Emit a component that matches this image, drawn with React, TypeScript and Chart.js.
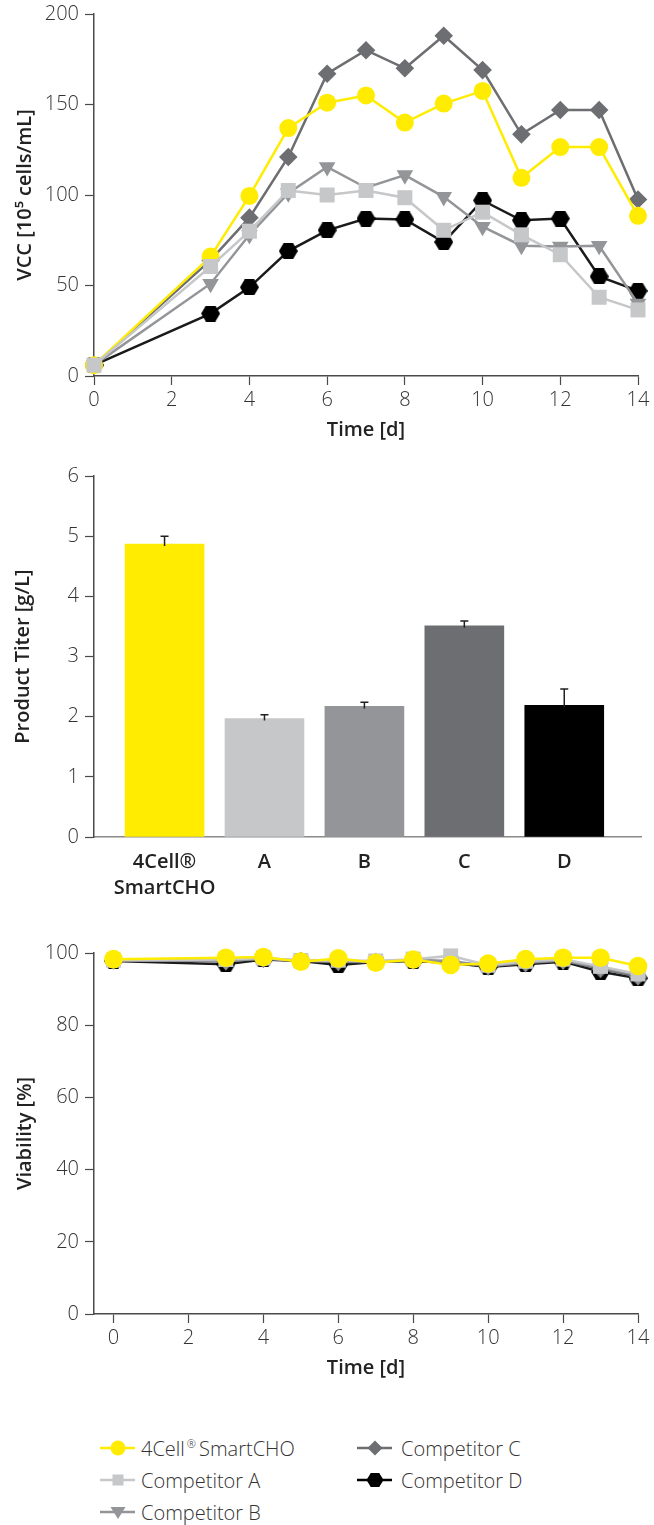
import React, { useEffect, useRef } from 'react';
import { Chart, registerables } from 'chart.js';
Chart.register(...registerables);

// ---------- DATA ----------
const days = [0, 3, 4, 5, 6, 7, 8, 9, 10, 11, 12, 13, 14];
const dayTicks = [0, 2, 4, 6, 8, 10, 12, 14];

const vccSmartCHO = [6, 66, 99.5, 137, 151, 155, 140, 150.5, 157.5, 109.5, 126.5, 126.5, 88.5];
const vccCompA = [6, 60.5, 80, 102.5, 100, 102.5, 98.5, 80.5, 90.5, 78, 67, 43.5, 36.5];
const vccCompB = [6, 51, 78, 101, 115.5, 104, 111, 99, 82.5, 72, 71.5, 72, 40];
const vccCompC = [6, 64, 87.5, 121, 167, 180, 170, 188, 169, 133.5, 147, 147, 97.5];
const vccCompD = [6, 34.5, 49, 69, 80.5, 87, 86.5, 74, 97, 86, 87, 55, 47];
const vccTicks = [0, 50, 100, 150, 200];

const titerLabels = [['4Cell®', 'SmartCHO'], 'A', 'B', 'C', 'D'];
const titerMeans = [4.87, 1.97, 2.17, 3.51, 2.19];
const titerErrors = [0.13, 0.06, 0.07, 0.08, 0.27];
const titerTicks = [0, 1, 2, 3, 4, 5, 6];

const viaSmartCHO = [98.3, 98.7, 98.9, 97.6, 98.5, 97.3, 98.2, 96.7, 97.1, 98.3, 98.7, 98.7, 96.4];
const viaCompA = [98.0, 98.2, 98.6, 97.9, 98.0, 97.8, 98.3, 99.2, 96.6, 97.7, 98.3, 96.3, 94.2];
const viaCompB = [98.0, 97.8, 98.5, 97.9, 97.7, 97.6, 98.1, 97.8, 96.4, 97.4, 98.0, 96.0, 93.8];
const viaCompC = [98.0, 97.7, 98.4, 97.8, 97.5, 97.5, 98.0, 97.6, 96.3, 97.2, 97.9, 95.6, 93.5];
const viaCompD = [97.8, 96.9, 98.2, 97.8, 96.7, 97.5, 97.8, 97.3, 96.1, 96.9, 97.6, 94.8, 93.0];
const viaTicks = [0, 20, 40, 60, 80, 100];

// ---------- STYLE ----------
const YELLOW = '#FFEC00';
const GREY_A = '#C6C7C9';
const GREY_B = '#939598';
const GREY_C = '#6D6E71';
const BLACK_D = '#000000';
const AXIS = '#4a4a4a';
const TEXT = '#333333';
const FONT = "'Open Sans', sans-serif";

Chart.defaults.font.family = FONT;
Chart.defaults.color = TEXT;

function makeHexagon(color: string, w: number, h: number) {
  const c = document.createElement('canvas');
  c.width = w;
  c.height = h;
  const ctx = c.getContext('2d')!;
  ctx.fillStyle = color;
  ctx.beginPath();
  const q = w / 4;
  ctx.moveTo(0, h / 2);
  ctx.lineTo(q, 0);
  ctx.lineTo(w - q, 0);
  ctx.lineTo(w, h / 2);
  ctx.lineTo(w - q, h);
  ctx.lineTo(q, h);
  ctx.closePath();
  ctx.fill();
  return c;
}

function lineDs(label: string, xs: number[], ys: number[], color: string, style: any, radius: number, order: number, rotation = 0, lineColor?: string) {
  return {
    label,
    data: xs.map((x, i) => ({ x, y: ys[i] })),
    borderColor: lineColor || color,
    backgroundColor: color,
    pointBackgroundColor: color,
    pointBorderColor: color,
    pointBorderWidth: 0,
    pointStyle: style,
    pointRadius: radius,
    pointRotation: rotation,
    borderWidth: 2.5,
    tension: 0,
    order,
    clip: false as any,
  };
}

const tickFont = { size: 20, weight: '300' as any, family: FONT };
const titleFont = { size: 20, weight: '600' as any, family: FONT };

function yAxis(ticksArr: number[], title: string, width: number, titlePad: number) {
  return {
    type: 'linear',
    position: 'left',
    min: ticksArr[0],
    max: ticksArr[ticksArr.length - 1],
    afterBuildTicks: (s: any) => { s.ticks = ticksArr.map((v) => ({ value: v })); },
    afterFit: (s: any) => {
      s.width = width;
      s.paddingTop = 0; s.paddingBottom = 0; s.paddingLeft = 0; s.paddingRight = 0;
    },
    ticks: { font: tickFont, color: TEXT, padding: 6 },
    grid: { display: true, drawOnChartArea: false, drawTicks: true, tickLength: 9, tickColor: AXIS, tickWidth: 1.2 },
    border: { display: true, color: AXIS, width: 1.5 },
    title: { display: true, text: title, font: titleFont, color: '#222', padding: { top: titlePad, bottom: 0 } },
  };
}

function xDayAxis(min: number, height: number, titlePadBottom: number) {
  return {
    type: 'linear',
    position: 'bottom',
    min,
    max: 14,
    afterBuildTicks: (s: any) => { s.ticks = dayTicks.map((v) => ({ value: v })); },
    afterFit: (s: any) => {
      s.height = height;
      s.paddingTop = 0; s.paddingBottom = 0; s.paddingLeft = 0; s.paddingRight = 0;
    },
    ticks: { font: tickFont, color: TEXT, padding: 3, maxRotation: 0 },
    grid: { display: true, drawOnChartArea: false, drawTicks: true, tickLength: 9, tickColor: AXIS, tickWidth: 1.2 },
    border: { display: true, color: AXIS, width: 1.5 },
    title: { display: true, text: 'Time [d]', font: titleFont, color: '#222', padding: { top: 0, bottom: titlePadBottom } },
  };
}

const errorBarPlugin = {
  id: 'errorBars',
  afterDatasetsDraw(chart: any) {
    const meta = chart.getDatasetMeta(0);
    const ys = chart.scales.y;
    const ctx = chart.ctx;
    ctx.save();
    ctx.strokeStyle = '#231F20';
    ctx.lineWidth = 1.5;
    meta.data.forEach((el: any, i: number) => {
      const top = ys.getPixelForValue(titerMeans[i] + titerErrors[i]);
      const base = ys.getPixelForValue(titerMeans[i]) + 2;
      ctx.beginPath();
      ctx.moveTo(el.x, base);
      ctx.lineTo(el.x, top);
      ctx.moveTo(el.x - 4, top);
      ctx.lineTo(el.x + 4, top);
      ctx.stroke();
    });
    ctx.restore();
  },
};

function ChartCanvas({ width, height, top, build }: { width: number; height: number; top: number; build: () => any }) {
  const ref = useRef<HTMLCanvasElement>(null);
  useEffect(() => {
    const chart = new Chart(ref.current!, build());
    return () => chart.destroy();
  }, []);
  return (
    <canvas
      ref={ref}
      width={width}
      height={height}
      style={{ position: 'absolute', left: 0, top, width, height }}
    />
  );
}

function vccConfig() {
  const hex = makeHexagon(BLACK_D, 19, 16);
  return {
    type: 'line',
    data: {
      datasets: [
        lineDs('Competitor D', days, vccCompD, BLACK_D, hex, 9, 5, 0, '#1a1a1a'),
        lineDs('Competitor B', days, vccCompB, GREY_B, 'triangle', 9.6, 4, 180),
        lineDs('Competitor C', days, vccCompC, GREY_C, 'rectRot', 9.3, 3),
        lineDs('4Cell® SmartCHO', days, vccSmartCHO, YELLOW, 'circle', 9, 2),
        lineDs('Competitor A', days, vccCompA, GREY_A, 'rect', 10.6, 1),
      ],
    },
    options: {
      responsive: false,
      animation: false,
      layout: { padding: { left: 0, right: 16, top: 14, bottom: 0 } },
      plugins: { legend: { display: false }, tooltip: { enabled: false } },
      scales: {
        x: xDayAxis(0, 74, 8),
        y: yAxis(vccTicks, 'VCC [10⁵ cells/mL]', 94, 13),
      },
    },
  };
}

function titerConfig() {
  return {
    type: 'bar',
    data: {
      datasets: [
        {
          label: 'Product Titer',
          data: titerMeans.map((v, i) => ({ x: i, y: v })),
          backgroundColor: [YELLOW, GREY_A, GREY_B, GREY_C, BLACK_D],
          borderWidth: 0,
          barThickness: 79,
        },
      ],
    },
    options: {
      responsive: false,
      animation: false,
      layout: { padding: { left: 0, right: 13, top: 26, bottom: 0 } },
      plugins: { legend: { display: false }, tooltip: { enabled: false } },
      scales: {
        x: {
          type: 'linear',
          position: 'bottom',
          offset: false,
          min: -0.706,
          max: 4.768,
          afterBuildTicks: (s: any) => { s.ticks = titerLabels.map((_, i) => ({ value: i })); },
          afterFit: (s: any) => {
            s.height = 73;
            s.paddingTop = 0; s.paddingBottom = 0; s.paddingLeft = 0; s.paddingRight = 0;
          },
          ticks: {
            font: { size: 20, weight: '600' as any, family: FONT, lineHeight: 1.3 },
            color: '#222',
            padding: 12,
            maxRotation: 0,
            autoSkip: false,
            callback: (v: any) => titerLabels[v as number],
          },
          grid: { display: true, offset: false, drawOnChartArea: false, drawTicks: false },
          border: { display: true, color: '#8a8a8a', width: 1.5 },
        },
        y: yAxis(titerTicks, 'Product Titer [g/L]', 94, 11),
      },
    },
    plugins: [errorBarPlugin],
  };
}

function viaConfig() {
  const hex = makeHexagon(BLACK_D, 19, 16);
  return {
    type: 'line',
    data: {
      datasets: [
        lineDs('Competitor D', days, viaCompD, BLACK_D, hex, 9, 5, 0, '#1a1a1a'),
        lineDs('Competitor C', days, viaCompC, GREY_C, 'rectRot', 9.3, 4),
        lineDs('Competitor B', days, viaCompB, GREY_B, 'triangle', 9.6, 3, 180),
        lineDs('Competitor A', days, viaCompA, GREY_A, 'rect', 10.6, 2),
        lineDs('4Cell® SmartCHO', days, viaSmartCHO, YELLOW, 'circle', 9.3, 1),
      ],
    },
    options: {
      responsive: false,
      animation: false,
      layout: { padding: { left: 0, right: 16, top: 23, bottom: 0 } },
      plugins: { legend: { display: false }, tooltip: { enabled: false } },
      scales: {
        x: xDayAxis(-0.52, 66, 0),
        y: yAxis(viaTicks, 'Viability [%]', 94, 13),
      },
    },
  };
}

function Marker({ kind, color }: { kind: string; color: string }) {
  let shape: any = null;
  const cx = 18, cy = 12;
  if (kind === 'circle') shape = <circle cx={cx} cy={cy} r={7.5} fill={color} />;
  if (kind === 'rect') shape = <rect x={cx - 5.5} y={cy - 5.5} width={11} height={11} fill={color} />;
  if (kind === 'triangle') shape = <polygon points={`${cx - 7.5},${cy - 5} ${cx + 7.5},${cy - 5} ${cx},${cy + 7}`} fill={color} />;
  if (kind === 'diamond') shape = <polygon points={`${cx - 7.5},${cy} ${cx},${cy - 7.5} ${cx + 7.5},${cy} ${cx},${cy + 7.5}`} fill={color} />;
  if (kind === 'hexagon') shape = <polygon points={`${cx - 8.5},${cy} ${cx - 4.25},${cy - 7} ${cx + 4.25},${cy - 7} ${cx + 8.5},${cy} ${cx + 4.25},${cy + 7} ${cx - 4.25},${cy + 7}`} fill={color} />;
  return (
    <svg width={36} height={24} style={{ display: 'block' }}>
      <line x1={0} y1={cy} x2={35} y2={cy} stroke={color} strokeWidth={2.5} />
      {shape}
    </svg>
  );
}

const legendItems = [
  { label: 'smart', kind: 'circle', color: YELLOW, x: 100, y: 1448 },
  { label: 'Competitor A', kind: 'rect', color: GREY_A, x: 100, y: 1480 },
  { label: 'Competitor B', kind: 'triangle', color: GREY_B, x: 100, y: 1512 },
  { label: 'Competitor C', kind: 'diamond', color: GREY_C, x: 357, y: 1448 },
  { label: 'Competitor D', kind: 'hexagon', color: BLACK_D, x: 357, y: 1480 },
];

export default function App() {
  return (
    <div style={{ position: 'absolute', left: 0, top: 0, width: 654, height: 1525, background: '#fff', overflow: 'hidden' }}>
      <ChartCanvas width={654} height={450} top={0} build={vccConfig} />
      <ChartCanvas width={654} height={460} top={450} build={titerConfig} />
      <ChartCanvas width={654} height={450} top={930} build={viaConfig} />
      {legendItems.map((it) => (
        <div
          key={it.label}
          style={{
            position: 'absolute',
            left: it.x,
            top: it.y - 14,
            height: 28,
            display: 'flex',
            alignItems: 'center',
            fontFamily: FONT,
            fontSize: 20,
            fontWeight: 300,
            color: TEXT,
            whiteSpace: 'nowrap',
          }}
        >
          <Marker kind={it.kind} color={it.color} />
          <span style={{ marginLeft: it.x === 100 ? 5 : 8 }}>
            {it.label === 'smart' ? (
              <>4Cell<sup style={{ fontSize: 11, verticalAlign: 'top', lineHeight: '18px', margin: '0 3px 0 2px' }}>®</sup>SmartCHO</>
            ) : (
              it.label
            )}
          </span>
        </div>
      ))}
    </div>
  );
}
